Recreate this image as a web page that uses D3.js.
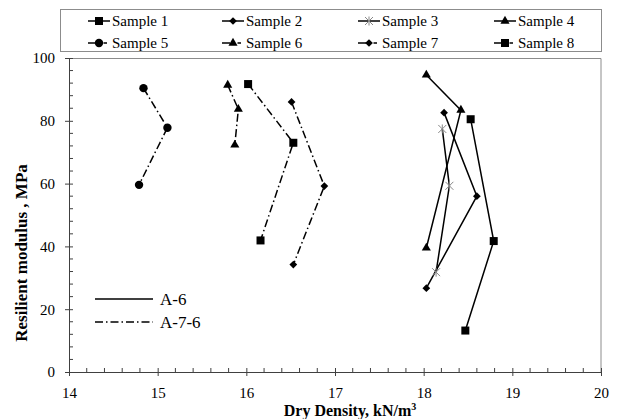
<!DOCTYPE html>
<html>
<head>
<meta charset="utf-8">
<script src="https://cdn.jsdelivr.net/npm/d3@7"></script>
<style>
  body { margin: 0; background: #fff; }
  svg text { font-family: "Liberation Serif", "Times New Roman", serif !important; }
</style>
</head>
<body>
<svg id="chart" width="619" height="419"></svg>
<script>
// ---- Data
const sampleNames = ['Sample 1', 'Sample 2', 'Sample 3', 'Sample 4', 'Sample 5', 'Sample 6', 'Sample 7', 'Sample 8'];
const soilClass = ['A-6', 'A-6', 'A-6', 'A-6', 'A-7-6', 'A-7-6', 'A-7-6', 'A-7-6'];
const dryDensity = [
    [18.53, 18.79, 18.47],
    [18.23, 18.60, 18.03],
    [18.21, 18.29, 18.14],
    [18.03, 18.42, 18.03],
    [14.84, 15.11, 14.79],
    [15.79, 15.91, 15.87],
    [16.51, 16.88, 16.53],
    [16.02, 16.53, 16.16]
];
const resilientModulus = [
    [80.5, 41.7, 13.2],
    [82.6, 56.0, 26.7],
    [77.4, 59.3, 31.8],
    [94.6, 83.4, 39.5],
    [90.4, 77.8, 59.6],
    [91.4, 83.7, 72.3],
    [86.0, 59.2, 34.2],
    [91.7, 73.0, 41.9]
];
const xTicks = [14, 15, 16, 17, 18, 19, 20];
const yTicks = [0, 20, 40, 60, 80, 100];
const classNames = ['A-6', 'A-7-6'];

// ---- Styles
const markerOf = ['square', 'diamond', 'asterisk', 'triangle', 'circle', 'triangle', 'diamond', 'square'];
const dashOf = { 'A-6': null, 'A-7-6': '8,3,1.5,3' };

const svg = d3.select('#chart');
const width = 619, height = 419;
const margin = { left: 69, right: 18, top: 58, bottom: 47 };
const innerW = width - margin.left - margin.right;
const innerH = height - margin.top - margin.bottom;

const mapX = d3.scaleLinear().domain([14, 20]).range([0, innerW]);
const mapY = d3.scaleLinear().domain([0, 100]).range([innerH, 0]);

const g = svg.append('g').attr('transform', `translate(${margin.left}, ${margin.top})`);

// ---- Frame (top and right)
g.append('path')
    .attr('d', `M0,0.5H${innerW}V${innerH}`)
    .attr('fill', 'none')
    .attr('stroke', '#8c8c8c')
    .attr('stroke-width', 1);

// ---- Minor ticks (inside)
const axisColor = '#404040';
const xMinor = d3.range(14, 20.001, 0.2).filter(v => Math.abs(v - Math.round(v)) > 1e-6);
g.append('g').selectAll('line').data(xMinor).enter().append('line')
    .attr('x1', d => mapX(d)).attr('x2', d => mapX(d))
    .attr('y1', innerH).attr('y2', innerH - 4)
    .attr('stroke', axisColor);
const yMinor = d3.range(0, 100.001, 4).filter(v => v % 20 !== 0);
g.append('g').selectAll('line').data(yMinor).enter().append('line')
    .attr('y1', d => mapY(d)).attr('y2', d => mapY(d))
    .attr('x1', 0).attr('x2', 4)
    .attr('stroke', axisColor);

// ---- Axes (major ticks cross the axis)
const xAxis = d3.axisBottom(mapX).tickValues(xTicks).tickFormat(d3.format('d')).tickSizeInner(4).tickSizeOuter(0).tickPadding(11);
const gx = g.append('g').attr('class', 'x axis').attr('transform', `translate(0, ${innerH})`).call(xAxis);
gx.selectAll('.tick line').attr('y1', -4).attr('y2', 4);

const yAxis = d3.axisLeft(mapY).tickValues(yTicks).tickSizeInner(4).tickSizeOuter(0).tickPadding(10);
const gy = g.append('g').attr('class', 'y axis').call(yAxis);
gy.selectAll('.tick line').attr('x1', 4).attr('x2', -4);

[gx, gy].forEach(a => {
    a.attr('font-family', null).attr('font-size', 15);
    a.select('.domain').attr('stroke', axisColor);
    a.selectAll('.tick line').attr('stroke', axisColor);
    a.selectAll('text').attr('fill', '#000');
});

// ---- Axis labels
svg.append('text')
    .attr('x', 350)
    .attr('y', 416)
    .attr('text-anchor', 'middle')
    .attr('font-weight', 'bold')
    .attr('font-size', 16)
    .text('Dry Density, kN/m')
    .append('tspan').attr('dy', -6).attr('font-size', 10).text('3');

svg.append('text')
    .attr('transform', `translate(27, 253) rotate(-90)`)
    .attr('text-anchor', 'middle')
    .attr('font-weight', 'bold')
    .attr('font-size', 17)
    .text('Resilient modulus , MPa');

// ---- Markers
function drawMarker(sel, kind) {
    if (kind === 'square') {
        sel.append('rect').attr('x', -4).attr('y', -4).attr('width', 8).attr('height', 8).attr('fill', '#000');
    } else if (kind === 'diamond') {
        sel.append('path').attr('d', d3.symbol(d3.symbolSquare, 30)()).attr('transform', 'rotate(45)').attr('fill', '#000');
    } else if (kind === 'triangle') {
        sel.append('path').attr('d', d3.symbol(d3.symbolTriangle, 36)()).attr('fill', '#000');
    } else if (kind === 'circle') {
        sel.append('circle').attr('r', 4.2).attr('fill', '#000');
    } else if (kind === 'asterisk') {
        sel.append('path').attr('d', 'M-4,-4L4,4M-4,4L4,-4M0,-4.5V4.5')
            .attr('stroke', '#888').attr('stroke-width', 1).attr('fill', 'none');
    }
}

// ---- Series
const line = d3.line().x(d => mapX(d[0])).y(d => mapY(d[1]));
sampleNames.forEach((name, i) => {
    const pts = dryDensity[i].map((x, j) => [x, resilientModulus[i][j]]);
    g.append('path')
        .datum(pts)
        .attr('fill', 'none')
        .attr('stroke', '#000')
        .attr('stroke-width', 1.5)
        .attr('stroke-dasharray', dashOf[soilClass[i]])
        .attr('d', line);
    pts.forEach(p => {
        const m = g.append('g').attr('transform', `translate(${mapX(p[0])}, ${mapY(p[1])})`);
        drawMarker(m, markerOf[i]);
    });
});

// ---- Top legend
const legend = svg.append('g');
legend.append('rect')
    .attr('x', 60.5).attr('y', 9.5).attr('width', 541).attr('height', 42)
    .attr('fill', '#fff').attr('stroke', '#8c8c8c');
const colX = [88, 222, 358, 494];
const rowY = [21, 43];
sampleNames.forEach((name, i) => {
    const cx = colX[i % 4], cy = rowY[Math.floor(i / 4)];
    const dash = dashOf[soilClass[i]];
    legend.append('line')
        .attr('x1', cx).attr('x2', dash ? cx + 19 : cx + 22)
        .attr('y1', cy).attr('y2', cy)
        .attr('stroke', '#000').attr('stroke-width', 1.5)
        .attr('stroke-dasharray', dash);
    drawMarker(legend.append('g').attr('transform', `translate(${cx + 11}, ${cy})`), markerOf[i]);
    legend.append('text')
        .attr('x', cx + 24).attr('y', cy + 5)
        .attr('font-size', 15)
        .text(name);
});

// ---- Soil class legend (inside plot)
const inLegend = svg.append('g');
classNames.forEach((c, i) => {
    const y = 299 + i * 23;
    inLegend.append('line')
        .attr('x1', 95).attr('x2', 153).attr('y1', y).attr('y2', y)
        .attr('stroke', '#000').attr('stroke-width', 1.5)
        .attr('stroke-dasharray', dashOf[c]);
    inLegend.append('text')
        .attr('x', 160).attr('y', y + 6)
        .attr('font-size', 17)
        .text(c);
});
</script>
</body>
</html>
